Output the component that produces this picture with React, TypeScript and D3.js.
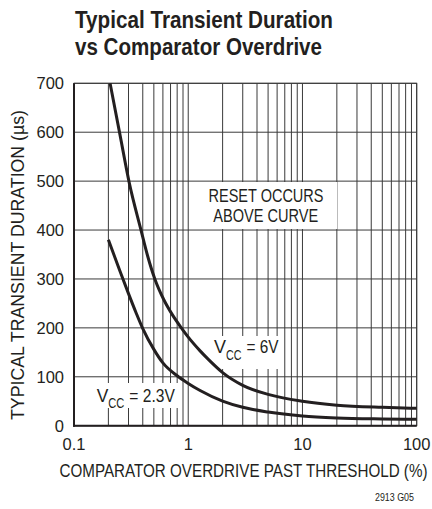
import React from "react";
import * as d3 from "d3";

// values (x = overdrive %, y = duration in µs)
const vcc6x = [0.207, 0.253, 0.305, 0.386, 0.44, 0.51, 0.61, 0.73, 0.87, 1, 1.27, 1.5, 2, 3, 5, 10, 20, 50, 100];
const vcc6y = [700, 594, 496, 400, 348, 300, 258, 226, 200, 181, 153, 135.6, 108.6, 82.6, 64, 50, 42, 37.5, 35.5];
const vcc23x = [0.2, 0.25, 0.3, 0.35, 0.4, 0.5, 0.6, 0.8, 1, 1.27, 2, 3, 5, 10, 20, 50, 100];
const vcc23y = [380, 319, 270, 230.5, 198.6, 156, 128.3, 102, 86.5, 72, 50.3, 37.6, 27.8, 19.7, 15.8, 13.8, 13];

const xTicks = [0.1, 1, 10, 100];
const xTickLabels = ["0.1", "1", "10", "100"];
const yTicks = [0, 100, 200, 300, 400, 500, 600, 700];

const ink = "#231f20";
const narrow = "'Liberation Sans Narrow', 'Liberation Sans', Arial, sans-serif";

export default function App() {
  const left = 74, right = 416.7, top = 83.3, bottom = 425.7;

  const x = d3.scaleLog().domain([0.1, 100]).range([left, right]);
  const y = d3.scaleLinear().domain([0, 700]).range([bottom, top]);

  const line = d3
    .line<[number, number]>()
    .x((d) => x(d[0]))
    .y((d) => y(d[1]))
    .curve(d3.curveMonotoneX);

  const s6 = vcc6x.map((v, i) => [v, vcc6y[i]] as [number, number]);
  const s23 = vcc23x.map((v, i) => [v, vcc23y[i]] as [number, number]);

  const grid = x.ticks();

  return (
    <svg
      width={432}
      height={509}
      style={{ position: "absolute", left: 0, top: 0, background: "#fff" }}
    >
      <g fontFamily={narrow} fill={ink}>
        <text x={75} y={27.5} fontSize={24} fontWeight="bold" textLength={258} lengthAdjust="spacingAndGlyphs">
          Typical Transient Duration
        </text>
        <text x={75} y={55} fontSize={24} fontWeight="bold" textLength={247} lengthAdjust="spacingAndGlyphs">
          vs Comparator Overdrive
        </text>
      </g>

      {/* grid */}
      <g stroke="#3a3a3a" strokeWidth={1}>
        {grid.map((t, i) => (
          <line key={"v" + i} x1={x(t)} x2={x(t)} y1={top} y2={bottom} />
        ))}
        {yTicks.map((t) => (
          <line key={"h" + t} x1={left} x2={right} y1={y(t)} y2={y(t)} />
        ))}
      </g>
      <rect x={left} y={top} width={right - left} height={bottom - top} fill="none" stroke="#3a3a3a" strokeWidth={1} />
      <line x1={left} x2={left} y1={top} y2={bottom + 1} stroke={ink} strokeWidth={2} />
      <line x1={left - 1} x2={right} y1={bottom} y2={bottom} stroke={ink} strokeWidth={2} />

      {/* label boxes */}
      <rect x={200} y={182} width={137} height={47} fill="#fff" />
      <rect x={211} y={336} width={71} height={33} fill="#fff" />
      <rect x={92} y={383} width={87} height={25} fill="#fff" />

      {/* curves */}
      <g fill="none" stroke={ink} strokeWidth={3}>
        <path d={line(s6) || ""} />
        <path d={line(s23) || ""} />
      </g>

      <g fontFamily={narrow} fill={ink}>
        <text x={208.5} y={202} fontSize={19} textLength={115} lengthAdjust="spacingAndGlyphs">
          RESET OCCURS
        </text>
        <text x={213.3} y={221.5} fontSize={19} textLength={105} lengthAdjust="spacingAndGlyphs">
          ABOVE CURVE
        </text>

        <text x={214} y={353} fontSize={19} textLength={12} lengthAdjust="spacingAndGlyphs">V</text>
        <text x={226} y={360} fontSize={14} textLength={15.5} lengthAdjust="spacingAndGlyphs">CC</text>
        <text x={246.5} y={353} fontSize={19} textLength={32} lengthAdjust="spacingAndGlyphs">= 6V</text>

        <text x={96.7} y={401.5} fontSize={19} textLength={11.6} lengthAdjust="spacingAndGlyphs">V</text>
        <text x={108.3} y={408} fontSize={14} textLength={16} lengthAdjust="spacingAndGlyphs">CC</text>
        <text x={129.3} y={401.5} fontSize={19} textLength={45.5} lengthAdjust="spacingAndGlyphs">= 2.3V</text>

        {yTicks.map((t) => (
          <text key={"yl" + t} x={64} y={y(t) + 6} fontSize={16.5} textAnchor="end">
            {t}
          </text>
        ))}
        {xTicks.map((t, i) => (
          <text key={"xl" + t} x={x(t)} y={449.5} fontSize={16.5} textAnchor="middle">
            {xTickLabels[i]}
          </text>
        ))}

        <text
          transform="translate(59.5,477) scale(1,1.22)"
          fontSize={15}
          textLength={368}
          lengthAdjust="spacingAndGlyphs"
        >
          COMPARATOR OVERDRIVE PAST THRESHOLD (%)
        </text>
        <text
          transform="translate(23.5,420) rotate(-90)"
          fontSize={19}
          textLength={310}
          lengthAdjust="spacingAndGlyphs"
        >
          TYPICAL TRANSIENT DURATION (µs)
        </text>
        <text x={375} y={501} fontSize={11} textLength={39} lengthAdjust="spacingAndGlyphs">
          2913 G05
        </text>
      </g>
    </svg>
  );
}
